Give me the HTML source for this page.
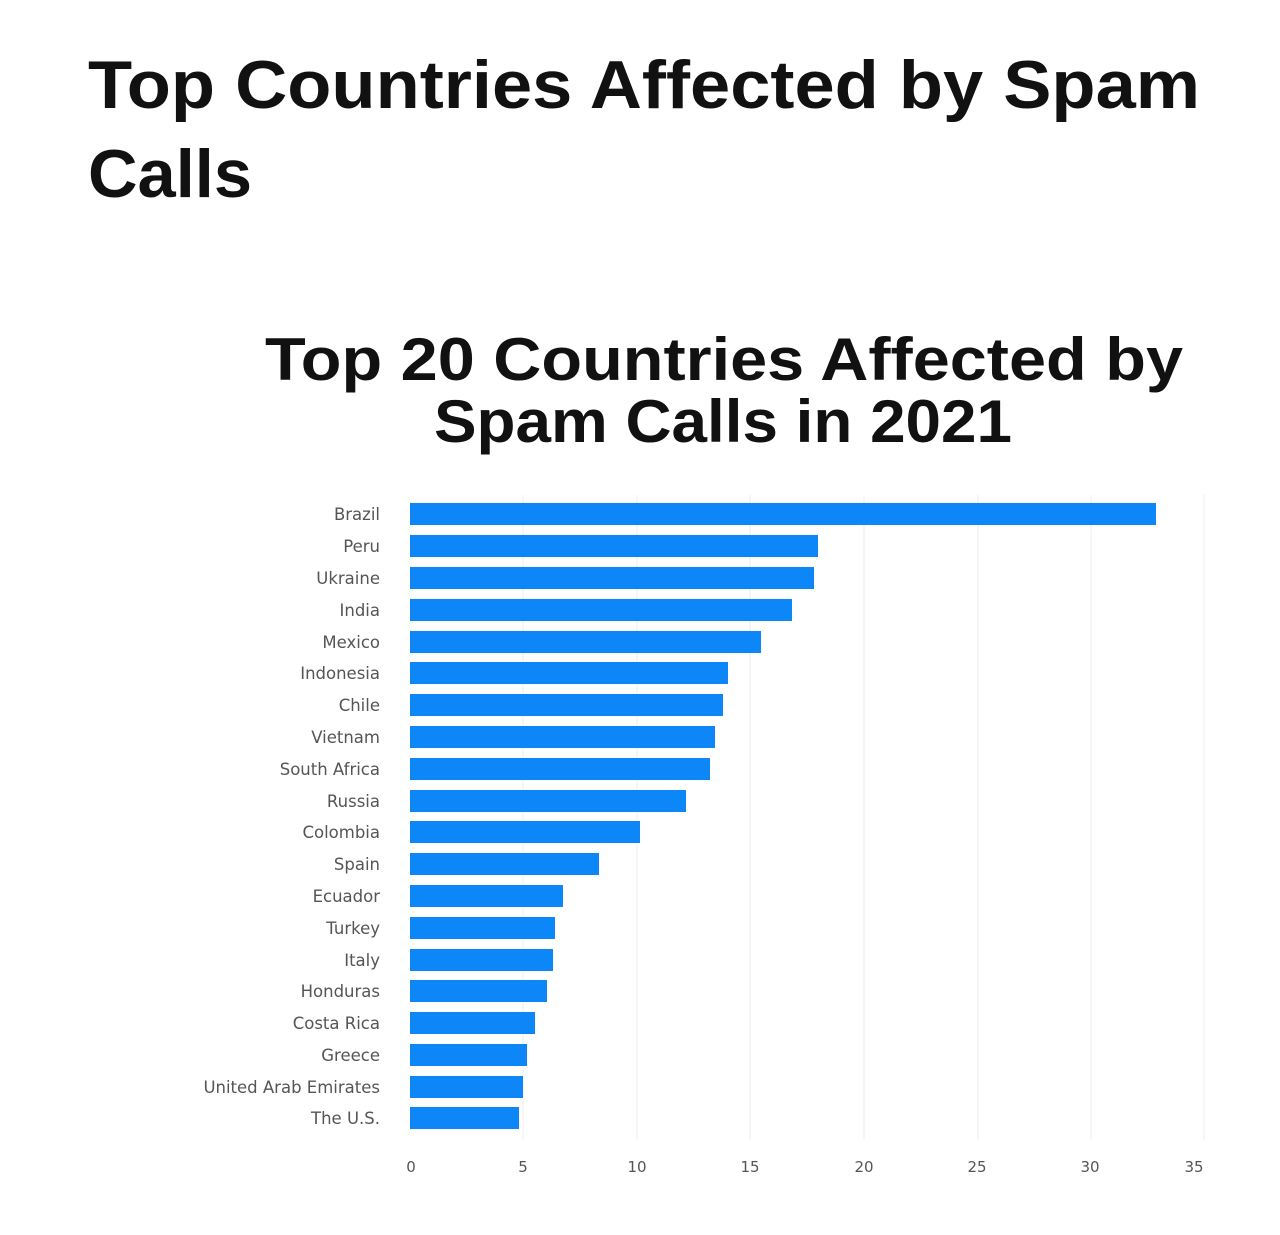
<!DOCTYPE html>
<html><head><meta charset="utf-8"><style>
html,body{margin:0;padding:0;background:#fff;}
body{width:1280px;height:1235px;overflow:hidden;position:relative;font-family:"Liberation Sans",sans-serif;}
</style></head><body>
<svg width="1280" height="1235" xmlns="http://www.w3.org/2000/svg" style="position:absolute;left:0;top:0">
<text x="88" y="108" font-family="Liberation Sans, sans-serif" font-weight="bold" font-size="68" fill="#111" textLength="1112" lengthAdjust="spacingAndGlyphs">Top Countries Affected by Spam</text>
<text x="88" y="197" font-family="Liberation Sans, sans-serif" font-weight="bold" font-size="68" fill="#111" textLength="164" lengthAdjust="spacingAndGlyphs">Calls</text>
<text x="265" y="380" font-family="Liberation Sans, sans-serif" font-weight="bold" font-size="60" fill="#111" textLength="918" lengthAdjust="spacingAndGlyphs">Top 20 Countries Affected by</text>
<text x="434" y="442" font-family="Liberation Sans, sans-serif" font-weight="bold" font-size="60" fill="#111" textLength="578" lengthAdjust="spacingAndGlyphs">Spam Calls in 2021</text>
<g stroke="#eeeeee" stroke-width="1">
<line x1="523" y1="495" x2="523" y2="1140"/><line x1="637" y1="495" x2="637" y2="1140"/><line x1="750" y1="495" x2="750" y2="1140"/><line x1="864" y1="495" x2="864" y2="1140"/><line x1="978" y1="495" x2="978" y2="1140"/><line x1="1091" y1="495" x2="1091" y2="1140"/><line x1="1204" y1="495" x2="1204" y2="1140"/>
</g>
<g fill="#0d86f7">
<rect x="410" y="503" width="746" height="22"/>
<rect x="410" y="535" width="408" height="22"/>
<rect x="410" y="567" width="404" height="22"/>
<rect x="410" y="599" width="382" height="22"/>
<rect x="410" y="631" width="351" height="22"/>
<rect x="410" y="662" width="318" height="22"/>
<rect x="410" y="694" width="313" height="22"/>
<rect x="410" y="726" width="305" height="22"/>
<rect x="410" y="758" width="300" height="22"/>
<rect x="410" y="790" width="276" height="22"/>
<rect x="410" y="821" width="230" height="22"/>
<rect x="410" y="853" width="189" height="22"/>
<rect x="410" y="885" width="153" height="22"/>
<rect x="410" y="917" width="145" height="22"/>
<rect x="410" y="949" width="143" height="22"/>
<rect x="410" y="980" width="137" height="22"/>
<rect x="410" y="1012" width="125" height="22"/>
<rect x="410" y="1044" width="117" height="22"/>
<rect x="410" y="1076" width="113" height="22"/>
<rect x="410" y="1107" width="109" height="22"/>
</g>
<g font-family="DejaVu Sans, sans-serif" font-size="16.5" fill="#555" text-anchor="end">
<text x="380" y="520">Brazil</text><text x="380" y="552">Peru</text><text x="380" y="584">Ukraine</text><text x="380" y="616">India</text><text x="380" y="648">Mexico</text><text x="380" y="679">Indonesia</text><text x="380" y="711">Chile</text><text x="380" y="743">Vietnam</text><text x="380" y="775">South Africa</text><text x="380" y="807">Russia</text><text x="380" y="838">Colombia</text><text x="380" y="870">Spain</text><text x="380" y="902">Ecuador</text><text x="380" y="934">Turkey</text><text x="380" y="966">Italy</text><text x="380" y="997">Honduras</text><text x="380" y="1029">Costa Rica</text><text x="380" y="1061">Greece</text><text x="380" y="1093">United Arab Emirates</text><text x="380" y="1124">The U.S.</text>
</g>
<g font-family="DejaVu Sans, sans-serif" font-size="15" fill="#555" text-anchor="middle">
<text x="411" y="1172">0</text><text x="523" y="1172">5</text><text x="637" y="1172">10</text><text x="750" y="1172">15</text><text x="864" y="1172">20</text><text x="977" y="1172">25</text><text x="1090" y="1172">30</text><text x="1194" y="1172">35</text>
</g>
</svg>
</body></html>
